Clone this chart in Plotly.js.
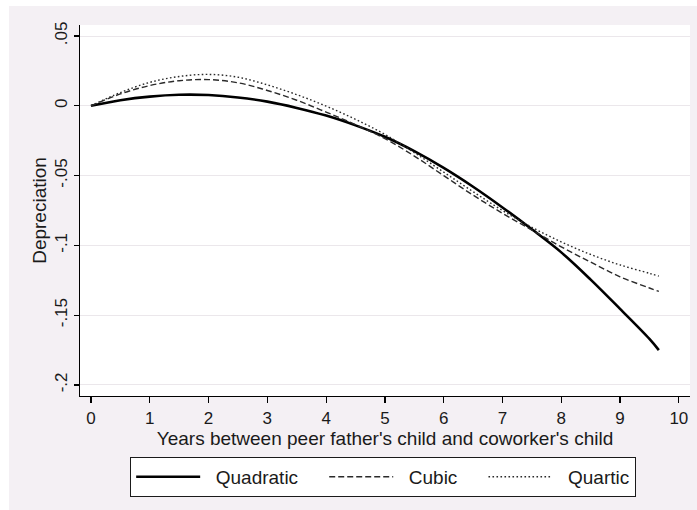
<!DOCTYPE html>
<html>
<head>
<meta charset="utf-8">
<script src="https://cdn.plot.ly/plotly-3.0.1.min.js"></script>
<style>
  html, body { margin: 0; padding: 0; background: #ffffff; }
  #chart { position: absolute; left: 9px; top: 6px; width: 688px; height: 504px; }
</style>
</head>
<body>
<div id="chart"></div>
<script>
// Years between peer father's child and coworker's child
const years = [0, 0.5, 1, 1.5, 2, 2.5, 3, 3.5, 4, 4.5, 5, 5.5, 6, 6.5, 7, 7.5, 8, 8.5, 9, 9.5, 9.66];

// Depreciation
const quadratic = [0, 0.0040, 0.0066, 0.0079, 0.0077, 0.0060, 0.0030, -0.0015, -0.0070, -0.0140,
  -0.0222, -0.0325, -0.0445, -0.0580, -0.0728, -0.0885, -0.1050, -0.1245, -0.1455, -0.1670, -0.1750];
const cubic = [0, 0.0085, 0.0145, 0.0180, 0.0188, 0.0165, 0.0110, 0.0040, -0.0045, -0.0135,
  -0.0235, -0.0360, -0.0500, -0.0640, -0.0770, -0.0890, -0.1010, -0.1120, -0.1225, -0.1305, -0.1330];
const quartic = [0, 0.0095, 0.0168, 0.0210, 0.0225, 0.0205, 0.0150, 0.0080, -0.0002, -0.0097,
  -0.0205, -0.0335, -0.0475, -0.0615, -0.0750, -0.0870, -0.0975, -0.1065, -0.1140, -0.1200, -0.1220];

const seriesNames = ["Quadratic", "Cubic", "Quartic"];

const yTickVals = [-0.2, -0.15, -0.1, -0.05, 0, 0.05];
const yTickText = ["-.2", "-.15", "-.1", "-.05", "0", ".05"];
const xTickVals = [0, 1, 2, 3, 4, 5, 6, 7, 8, 9, 10];

const FONT = "Liberation Sans, Arial, sans-serif";
const NB = "\u00a0";
// legend label spacing (leading gap after the sample, trailing gap before next item)
function legendLabel(name, last) {
  return NB + NB + name + (last ? "" : NB + NB + NB + NB);
}

const traces = [
  { x: years, y: quadratic, name: legendLabel(seriesNames[0], false), type: "scatter", mode: "lines",
    line: { color: "#000000", width: 2.6, shape: "spline", smoothing: 1 } },
  { x: years, y: cubic, name: legendLabel(seriesNames[1], false), type: "scatter", mode: "lines",
    line: { color: "#2a2a2a", width: 1.4, dash: "6px,3px", shape: "spline", smoothing: 1 } },
  { x: years, y: quartic, name: legendLabel(seriesNames[2], true), type: "scatter", mode: "lines",
    line: { color: "#2a2a2a", width: 1.4, dash: "1.6px,2.4px", shape: "spline", smoothing: 1 } }
];

const layout = {
  width: 688, height: 504,
  paper_bgcolor: "#f4f0f4",
  plot_bgcolor: "#ffffff",
  margin: { l: 71, r: 7, t: 19, b: 114 },
  font: { family: FONT, color: "#1a1a1a", size: 17 },
  showlegend: true,
  legend: {
    orientation: "h",
    x: 0.497, xanchor: "center",
    y: -0.164, yanchor: "top",
    bgcolor: "#ffffff",
    bordercolor: "#1a1a1a",
    borderwidth: 1,
    itemwidth: 64,
    font: { family: FONT, size: 19, color: "#1a1a1a" },
    traceorder: "normal"
  },
  xaxis: {
    range: [-0.187, 10.19],
    tickvals: xTickVals,
    ticks: "outside", ticklen: 6, tickwidth: 1.2, tickcolor: "#000000",
    showline: true, linecolor: "#000000", linewidth: 1.3,
    showgrid: false, zeroline: false,
    tickfont: { family: FONT, size: 17, color: "#1a1a1a" },
    title: { text: "Years between peer father's child and coworker's child",
             font: { family: FONT, size: 19, color: "#1a1a1a" }, standoff: 3 }
  },
  yaxis: {
    range: [-0.2079, 0.0579],
    tickvals: yTickVals, ticktext: yTickText,
    tickangle: -90,
    ticks: "outside", ticklen: 5, tickwidth: 1.2, tickcolor: "#000000",
    showline: true, linecolor: "#000000", linewidth: 1.3,
    showgrid: true, gridcolor: "#ebe7eb", gridwidth: 1,
    zeroline: false,
    tickfont: { family: FONT, size: 17, color: "#1a1a1a" },
    title: { text: "Depreciation", font: { family: FONT, size: 19, color: "#1a1a1a" }, standoff: 0 }
  }
};

Plotly.newPlot("chart", traces, layout, { displayModeBar: false, staticPlot: true });
</script>
</body>
</html>
